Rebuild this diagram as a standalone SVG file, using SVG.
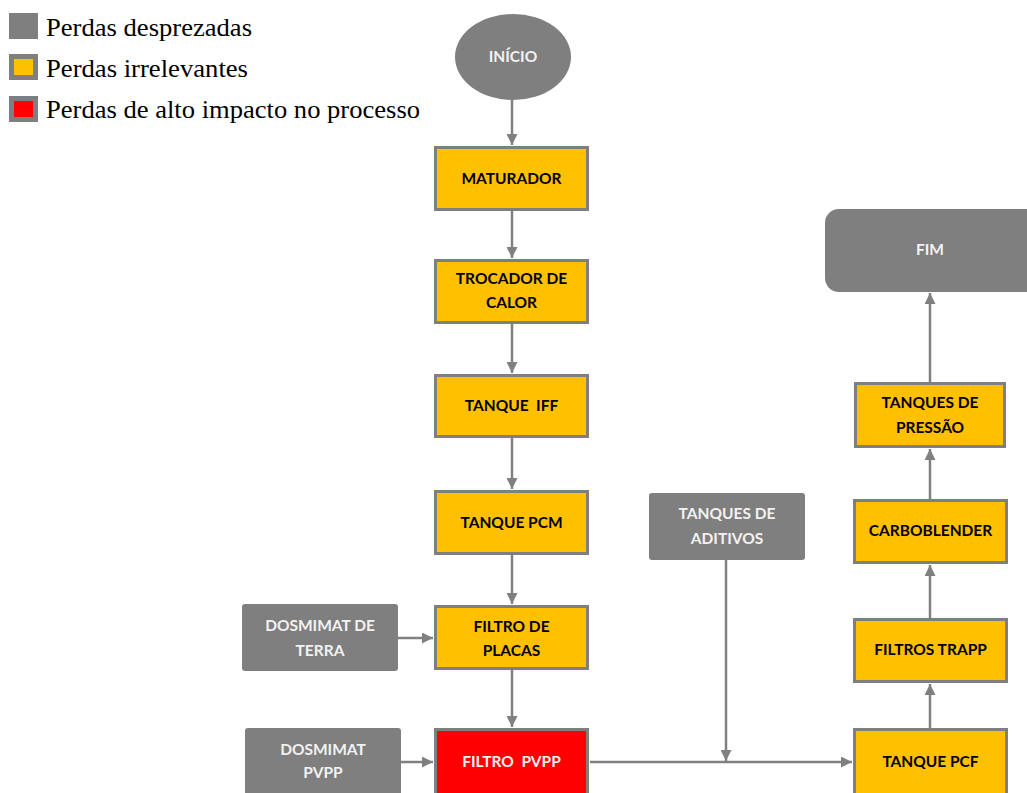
<svg xmlns="http://www.w3.org/2000/svg" width="1027" height="793" viewBox="0 0 1027 793">
<style>
.y{fill:#FFC000;stroke:#7F7F7F;stroke-width:3}
.r{fill:#FF0000;stroke:#7F7F7F;stroke-width:3}
.g{fill:#7F7F7F}
.t{font-family:Lato,"Open Sans",sans-serif;font-weight:bold;font-size:15.5px;text-anchor:middle}
.d{fill:#000}
.w{fill:#F2F2F2}
.lg{font-family:"Liberation Serif",serif;font-size:24.5px;fill:#000}
.c{stroke:#808080;stroke-width:2.5;fill:none;marker-end:url(#ah)}
</style>
<defs>
<marker id="ah" viewBox="0 0 10 10" refX="10" refY="5" markerWidth="4.4" markerHeight="4.4" orient="auto" markerUnits="strokeWidth">
<path d="M0,0 L10,5 L0,10 z" fill="#808080"/>
</marker>
</defs>
<rect width="1027" height="793" fill="#fff"/>
<g id="legend">
<rect x="9" y="13" width="29" height="26" fill="#7F7F7F"/>
<text class="lg" x="46" y="36" textLength="206" lengthAdjust="spacingAndGlyphs">Perdas desprezadas</text>
<rect x="9" y="54" width="29" height="26" fill="#7F7F7F"/>
<rect x="14" y="59" width="19" height="16" fill="#FFC000"/>
<text class="lg" x="46" y="77" textLength="202" lengthAdjust="spacingAndGlyphs">Perdas irrelevantes</text>
<rect x="9" y="96" width="29" height="26" fill="#7F7F7F"/>
<rect x="14" y="101" width="19" height="16" fill="#FF0000"/>
<text class="lg" x="46" y="118" textLength="374" lengthAdjust="spacingAndGlyphs">Perdas de alto impacto no processo</text>
</g>
<g id="connectors">
<line class="c" x1="512" y1="99" x2="512" y2="145"/>
<line class="c" x1="512" y1="211" x2="512" y2="258"/>
<line class="c" x1="512" y1="324" x2="512" y2="373"/>
<line class="c" x1="512" y1="438" x2="512" y2="489"/>
<line class="c" x1="512" y1="555" x2="512" y2="604"/>
<line class="c" x1="512" y1="670" x2="512" y2="727"/>
<line class="c" x1="398" y1="638" x2="433" y2="638"/>
<line class="c" x1="401" y1="762" x2="433" y2="762"/>
<line class="c" x1="590" y1="762" x2="852" y2="762"/>
<line class="c" x1="726" y1="560" x2="726" y2="761"/>
<line class="c" x1="930" y1="728" x2="930" y2="684"/>
<line class="c" x1="930" y1="618" x2="930" y2="565"/>
<line class="c" x1="930" y1="499" x2="930" y2="449"/>
<line class="c" x1="930" y1="382" x2="930" y2="293"/>
</g>
<g id="inicio">
<ellipse cx="513" cy="57" rx="58" ry="43" fill="#7F7F7F"/>
<text class="t w" x="513" y="62">INÍCIO</text>
</g>
<g id="maturador">
<rect class="y" x="435.5" y="147.5" width="152" height="62"/>
<text class="t d" x="511.5" y="184">MATURADOR</text>
</g>
<g id="trocador">
<rect class="y" x="435.5" y="260.5" width="152" height="62"/>
<text class="t d" x="511.5" y="284">TROCADOR DE</text>
<text class="t d" x="511.5" y="308">CALOR</text>
</g>
<g id="tanque-iff">
<rect class="y" x="435.5" y="375.5" width="152" height="61"/>
<text class="t d" x="511.5" y="411" xml:space="preserve">TANQUE  IFF</text>
</g>
<g id="tanque-pcm">
<rect class="y" x="435.5" y="491.5" width="152" height="62"/>
<text class="t d" x="511.5" y="528">TANQUE PCM</text>
</g>
<g id="filtro-placas">
<rect class="y" x="435.5" y="606.5" width="152" height="62"/>
<text class="t d" x="511.5" y="632">FILTRO DE</text>
<text class="t d" x="511.5" y="656">PLACAS</text>
</g>
<g id="filtro-pvpp">
<rect class="r" x="435.5" y="729.5" width="152" height="70"/>
<text class="t w" x="511.5" y="767" xml:space="preserve">FILTRO  PVPP</text>
</g>
<g id="dosmimat-terra">
<rect class="g" x="242" y="604" width="156" height="67" rx="3"/>
<text class="t w" x="320" y="631">DOSMIMAT DE</text>
<text class="t w" x="320" y="656">TERRA</text>
</g>
<g id="dosmimat-pvpp">
<rect class="g" x="245" y="728" width="156" height="72" rx="3"/>
<text class="t w" x="323" y="755">DOSMIMAT</text>
<text class="t w" x="323" y="778">PVPP</text>
</g>
<g id="tanques-aditivos">
<rect class="g" x="649" y="493" width="156" height="67" rx="3"/>
<text class="t w" x="727" y="519">TANQUES DE</text>
<text class="t w" x="727" y="544">ADITIVOS</text>
</g>
<g id="tanque-pcf">
<rect class="y" x="854.5" y="729.5" width="152" height="70"/>
<text class="t d" x="930.5" y="767">TANQUE PCF</text>
</g>
<g id="filtros-trapp">
<rect class="y" x="854.5" y="619.5" width="152" height="62"/>
<text class="t d" x="930.5" y="655">FILTROS TRAPP</text>
</g>
<g id="carboblender">
<rect class="y" x="854.5" y="500.5" width="152" height="62"/>
<text class="t d" x="930.5" y="536">CARBOBLENDER</text>
</g>
<g id="tanques-pressao">
<rect class="y" x="855.5" y="383.5" width="149" height="63"/>
<text class="t d" x="930" y="408">TANQUES DE</text>
<text class="t d" x="930" y="433">PRESSÃO</text>
</g>
<g id="fim">
<rect class="g" x="825" y="209" width="220" height="83" rx="14"/>
<text class="t w" x="930" y="255">FIM</text>
</g>
</svg>
